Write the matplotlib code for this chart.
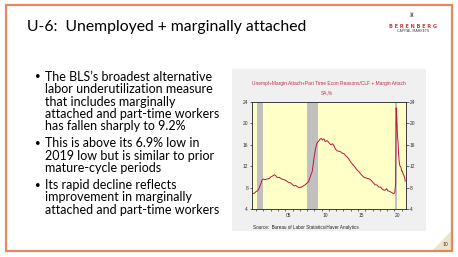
import numpy as np
import matplotlib
matplotlib.use("Agg")
import matplotlib.pyplot as plt
from matplotlib.patches import Polygon, Rectangle

# U-6 rate, %
dates = [2000.42, 2000.6, 2000.8, 2001.0, 2001.2, 2001.4, 2001.6, 2001.8, 2001.95,
         2002.2, 2002.5, 2002.8, 2003.0, 2003.3, 2003.5, 2003.7, 2003.9,
         2004.2, 2004.5, 2004.8, 2005.1, 2005.4, 2005.7, 2005.95,
         2006.2, 2006.45, 2006.7, 2006.95, 2007.2, 2007.45, 2007.7, 2007.95,
         2008.2, 2008.45, 2008.7, 2008.95, 2009.15, 2009.35, 2009.55, 2009.75, 2009.95,
         2010.1, 2010.3, 2010.5, 2010.7, 2010.9, 2011.1, 2011.3, 2011.5, 2011.7, 2011.9,
         2012.1, 2012.35, 2012.6, 2012.85, 2013.1, 2013.35, 2013.6, 2013.85,
         2014.1, 2014.35, 2014.6, 2014.85, 2015.1, 2015.35, 2015.6, 2015.85,
         2016.1, 2016.35, 2016.6, 2016.85, 2017.1, 2017.35, 2017.6, 2017.85,
         2018.1, 2018.35, 2018.6, 2018.8, 2018.95, 2019.1, 2019.35, 2019.6, 2019.85,
         2020.05, 2020.17, 2020.25, 2020.33, 2020.42, 2020.5, 2020.58, 2020.67,
         2020.75, 2020.83, 2020.92, 2021.0, 2021.08, 2021.17, 2021.25, 2021.33,
         2021.42, 2021.5]
u6 = [7.0, 6.9, 7.0, 7.3, 7.4, 7.9, 8.6, 9.4, 9.6,
      9.5, 9.6, 9.7, 10.0, 10.2, 10.4, 10.2, 9.9,
      9.9, 9.6, 9.5, 9.3, 9.0, 8.9, 8.6,
      8.3, 8.4, 8.1, 8.0, 8.1, 8.3, 8.5, 8.8,
      9.1, 10.1, 11.0, 13.5, 15.2, 16.3, 16.6, 17.0, 17.2,
      16.9, 17.1, 16.6, 16.8, 16.6, 16.2, 16.0, 16.2, 15.8, 15.2,
      14.9, 14.8, 14.7, 14.4, 14.3, 13.9, 13.6, 13.1,
      12.6, 12.2, 11.8, 11.3, 11.0, 10.6, 10.2, 9.9,
      9.8, 9.7, 9.6, 9.3, 8.9, 8.5, 8.5, 8.1,
      8.1, 7.7, 7.5, 7.6, 7.8, 7.4, 7.3, 7.1, 6.9,
      7.0, 8.7, 22.9, 21.2, 18.0, 16.5, 14.2, 12.8,
      12.1, 12.0, 11.7, 11.1, 11.1, 10.7, 10.4, 10.2,
      9.8, 9.2]

recessions = [(2001.17, 2001.92), (2007.92, 2009.5), (2020.08, 2020.33)]
yticks = [4, 8, 12, 16, 20, 24]
xtick_pos = [2005.5, 2010.5, 2015.5, 2020.5]
xtick_labels = ["05", "10", "15", "20"]

title = "U-6:  Unemployed + marginally attached"
bullets = [
    ["The BLS\u2019s broadest alternative", "labor underutilization measure",
     "that includes marginally", "attached and part-time workers",
     "has fallen sharply to 9.2%"],
    ["This is above its 6.9% low in", "2019 low but is similar to prior",
     "mature-cycle periods"],
    ["Its rapid decline reflects", "improvement in marginally",
     "attached and part-time workers"],
]

W, H = 458, 257
fig = plt.figure(figsize=(W / 100, H / 100), dpi=100)
fig.patch.set_facecolor("white")


def fx(x):
    return x / W


def fy(y):
    return 1 - y / H


slide_font = ["Lato", "DejaVu Sans"]

# slide frame
fig.add_artist(Rectangle((fx(6), fy(251)), fx(446), (251 - 4.5) / H, transform=fig.transFigure,
                         fill=False, edgecolor="#e3895f", linewidth=1.6, zorder=5))
fig.add_artist(Polygon([(fx(433), fy(250)), (fx(451), fy(250)), (fx(451), fy(231))],
                       closed=True, transform=fig.transFigure, facecolor="#efe4c9",
                       edgecolor="none", zorder=-2))
fig.text(fx(445), fy(245), "10", fontsize=3.6, family=slide_font, color="#404040",
         ha="center", va="center")

fig.text(fx(27), fy(27), title, fontsize=11.3, family=slide_font, color="black",
         ha="left", va="center")

# logo
fig.text(fx(412), fy(15.5), "\u265c", fontsize=4.5, color="#707070", ha="center", va="center",
         family=["DejaVu Sans"])
fig.text(fx(413), fy(26), "B E R E N B E R G", fontsize=3.6, color="#d0393f", ha="center",
         va="center", weight="bold", family=["DejaVu Sans"])
fig.text(fx(413), fy(31), "CAPITAL MARKETS", fontsize=2.5, color="#404040", ha="center",
         va="center", family=["DejaVu Sans"])

# bullets
y = 76.8
for para in bullets:
    fig.text(fx(37.5), fy(y), "\u2022", fontsize=7, family=slide_font, ha="center", va="center")
    for line in para:
        fig.text(fx(45), fy(y), line, fontsize=9.0, family=slide_font, ha="left", va="center")
        y += 12.4
    y += 4.5

# chart panel
fig.add_artist(Rectangle((fx(232), fy(231)), fx(426 - 232), (231 - 69) / H,
                         transform=fig.transFigure, facecolor="#f0f0f0", edgecolor="none",
                         zorder=-1))
fig.text(fx(329), fy(83), "Unempl+Margin Attach+Part Time Econ Reasons/CLF + Margin Attach",
         fontsize=3.5, color="#c0304a", ha="center", va="center", family=["Liberation Sans"])
fig.text(fx(327), fy(92.5), "SA,%", fontsize=3.5, color="#c0304a", ha="center", va="center",
         family=["Liberation Sans"])
fig.text(fx(253), fy(228), "Source:  Bureau of Labor Statistics/Haver Analytics",
         fontsize=3.3, color="#202020", ha="left", va="center", family=["Liberation Sans"])

ax = fig.add_axes([fx(252), fy(209), fx(406 - 252), (209 - 102) / H])
ax.set_facecolor("#ffffc8")
for a, b in recessions:
    ax.axvspan(a, b, color="#c0c0c0", linewidth=0)
ax.plot(dates, u6, color="#c0143c", linewidth=0.7)
ax.set_xlim(2000.42, 2021.6)
ax.set_ylim(4, 24)
ax.set_yticks(yticks)
ax.set_yticklabels([str(v) for v in yticks])
ax.set_xticks(xtick_pos)
ax.set_xticklabels(xtick_labels)
ax.set_xticks(np.arange(2001, 2022), minor=True)
ax.tick_params(axis="x", which="major", length=0, labelsize=3.5, pad=3)
ax.tick_params(axis="x", which="minor", length=1.5, width=0.4, direction="out")
ax.tick_params(axis="y", length=1.8, width=0.4, labelsize=3.5, pad=1, direction="out")
for s in ax.spines.values():
    s.set_linewidth(0.5)
    s.set_color("#303030")

ax2 = ax.twinx()
ax2.set_ylim(4, 24)
ax2.set_yticks(yticks)
ax2.set_yticklabels([str(v) for v in yticks])
ax2.tick_params(axis="y", length=1.8, width=0.4, labelsize=3.5, pad=1, direction="out")
for s in ax2.spines.values():
    s.set_linewidth(0.5)
    s.set_color("#303030")

for t in ax.get_xticklabels() + ax.get_yticklabels() + ax2.get_yticklabels():
    t.set_family("Liberation Sans")
    t.set_color("#303030")

fig.savefig("out.png", dpi=100)
